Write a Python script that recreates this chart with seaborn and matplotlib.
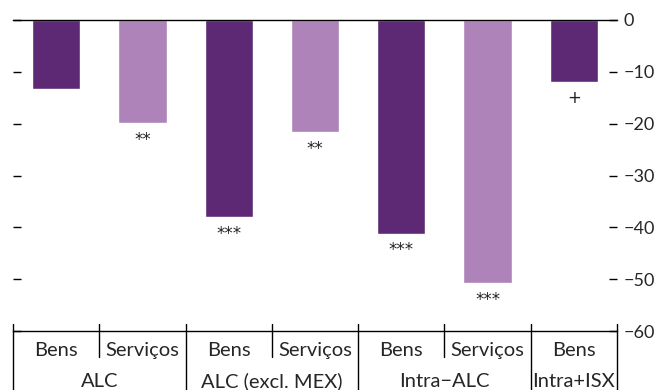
import matplotlib
matplotlib.use("Agg")
import matplotlib.pyplot as plt
import matplotlib.transforms as mtransforms
import seaborn as sns
import pandas as pd

# ---- data ----
categories = ["Bens", "Serviços", "Bens", "Serviços", "Bens", "Serviços", "Bens"]
groups = ["ALC", "ALC", "ALC (excl. MEX)", "ALC (excl. MEX)",
          "Intra\u2212ALC", "Intra\u2212ALC", "Intra+ISX"]
group_names = ["ALC", "ALC (excl. MEX)", "Intra\u2212ALC", "Intra+ISX"]
values = [-13.3, -19.9, -38.1, -21.7, -41.2, -50.8, -11.9]
significance = ["", "**", "***", "**", "***", "***", "+"]
y_ticks = [0, -10, -20, -30, -40, -50, -60]

colors = {"Bens": "#5d2874", "Serviços": "#ad83ba"}

sns.set_style("white")
plt.rcParams["font.family"] = ["Lato", "DejaVu Sans"]

df = pd.DataFrame({
    "slot": [f"{g}|{c}|{i}" for i, (g, c) in enumerate(zip(groups, categories))],
    "tipo": categories,
    "valor": values,
})

fig = plt.figure(figsize=(6.72, 3.90), dpi=100)
ax = fig.add_axes([13 / 672, 1 - 331 / 390, (617 - 13) / 672, (331 - 20) / 390])

sns.barplot(data=df, x="slot", y="valor", hue="tipo", palette=colors,
            dodge=False, width=0.56, legend=False, ax=ax, saturation=1)

ax.set_ylim(-60, 0)
ax.set_xlim(-0.5, len(values) - 0.5)
ax.set_yticks(y_ticks)
ax.set_xticks([])
ax.set_xlabel("")
ax.set_ylabel("")
ax.tick_params(axis="y", left=True, right=True, labelleft=False, labelright=True,
               direction="in", length=6, width=1, color="black",
               labelsize=13, pad=5)

for side in ["left", "right"]:
    ax.spines[side].set_visible(False)
for side in ["top", "bottom"]:
    ax.spines[side].set_visible(True)
    ax.spines[side].set_color("black")
    ax.spines[side].set_linewidth(1)

# significance markers
for i, (v, s) in enumerate(zip(values, significance)):
    if s:
        ax.annotate(s, xy=(i, v), xytext=(0, -15.5), textcoords="offset points",
                    ha="center", va="baseline", fontsize=12, color="#222222",
                    family="DejaVu Sans")

# category axis (two levels)
trans = mtransforms.blended_transform_factory(ax.transData, ax.transAxes)
n = len(values)
bounds_group = [-0.5]
for i in range(1, n):
    if groups[i] != groups[i - 1]:
        bounds_group.append(i - 0.5)
bounds_group.append(n - 0.5)
for b in bounds_group:
    ax.plot([b, b], [0.0225, -0.19], transform=trans, color="black", lw=1,
            clip_on=False)
for i in range(1, n):
    b = i - 0.5
    if b not in bounds_group:
        ax.plot([b, b], [0.0225, -0.084], transform=trans, color="black", lw=1,
                clip_on=False)

for i, c in enumerate(categories):
    ax.text(i, -0.062, c, transform=trans, ha="center", va="center", fontsize=14.5)

for g in group_names:
    idx = [i for i, gg in enumerate(groups) if gg == g]
    xc = (idx[0] + idx[-1]) / 2
    ax.text(xc, -0.163, g, transform=trans, ha="center", va="center", fontsize=14.5)

fig.savefig("out.png", dpi=100)
